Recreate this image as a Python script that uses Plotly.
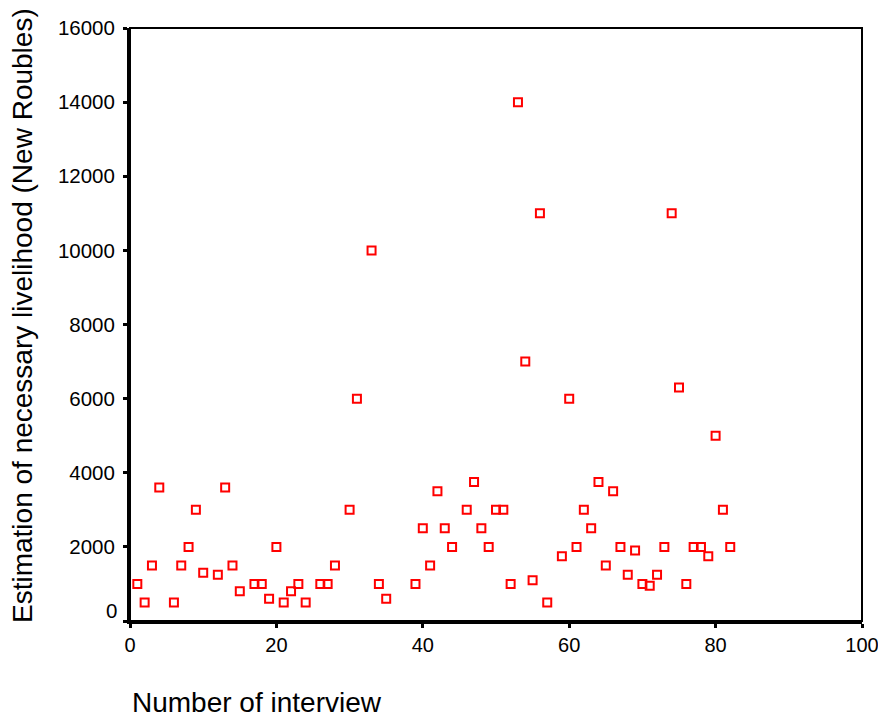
import plotly.graph_objects as go

interview = [1, 2, 3, 4, 6, 7, 8, 9, 10, 12, 13, 14, 15, 17, 18, 19, 20, 21, 22, 23, 24,
             26, 27, 28, 30, 31, 33, 34, 35, 39, 40, 41, 42, 43, 44, 46, 47, 48, 49, 50,
             51, 52, 53, 54, 55, 56, 57, 59, 60, 61, 62, 63, 64, 65, 66, 67, 68, 69, 70,
             71, 72, 73, 74, 75, 76, 77, 78, 79, 80, 81, 82]
livelihood = [1000, 500, 1500, 3600, 500, 1500, 2000, 3000, 1300, 1250, 3600, 1500, 800,
              1000, 1000, 600, 2000, 500, 800, 1000, 500,
              1000, 1000, 1500, 3000, 6000, 10000, 1000, 600, 1000, 2500, 1500, 3500, 2500,
              2000, 3000, 3750, 2500, 2000, 3000,
              3000, 1000, 14000, 7000, 1100, 11000, 500, 1750, 6000, 2000, 3000, 2500, 3750,
              1500, 3500, 2000, 1250, 1900, 1000,
              950, 1250, 2000, 11000, 6300, 1000, 2000, 2000, 1750, 5000, 3000, 2000]

y_ticks = [0, 2000, 4000, 6000, 8000, 10000, 12000, 14000, 16000]
y_ticktext = ["" if v == 0 else str(v) for v in y_ticks]
x_ticks = [0, 20, 40, 60, 80, 100]

FONT = "Liberation Sans, Arial, sans-serif"
TICK_SIZE = 20.5
XTICK_SIZE = 20

fig = go.Figure()
fig.add_trace(go.Scatter(
    x=interview, y=livelihood, mode="markers",
    marker=dict(symbol="square-open", size=8, color="#ff0000",
                line=dict(color="#ff0000", width=2)),
    showlegend=False, cliponaxis=False,
))

fig.update_layout(
    width=870, height=708,
    margin=dict(l=122, r=16, t=20, b=95),
    paper_bgcolor="white", plot_bgcolor="white",
    font=dict(family=FONT, color="black", size=TICK_SIZE),
    xaxis=dict(range=[0, 100], tickvals=x_ticks, showgrid=False, zeroline=False,
               showline=True, linecolor="black", linewidth=3,
               ticks="outside", ticklen=4, tickwidth=3, tickcolor="black",
               automargin=False, ticklabeloverflow="allow",
               tickfont=dict(size=XTICK_SIZE, family=FONT)),
    yaxis=dict(range=[0, 16000], tickvals=y_ticks, ticktext=y_ticktext,
               showgrid=False, zeroline=False,
               showline=True, linecolor="black", linewidth=3,
               ticks="outside", ticklen=4, tickwidth=3, tickcolor="black",
               ticklabelstandoff=4, automargin=False,
               tickfont=dict(size=TICK_SIZE, family=FONT)),
    shapes=[dict(type="rect", xref="paper", yref="paper", x0=0, x1=1, y0=0, y1=1,
                 line=dict(color="black", width=2), layer="above")],
    annotations=[
        dict(text="0", xref="paper", yref="y", x=0, y=0, xanchor="right",
             yanchor="middle", xshift=-11, yshift=11, showarrow=False,
             font=dict(size=TICK_SIZE, family=FONT)),
        dict(text="Number of interview", xref="paper", yref="paper", x=0, y=-0.138,
             xanchor="left", yanchor="middle", showarrow=False,
             font=dict(size=28, family=FONT)),
        dict(text="Estimation of necessary livelihood (New Roubles)", xref="paper",
             yref="paper", x=-0.147, y=0.515, xanchor="center", yanchor="middle",
             textangle=-90, showarrow=False, font=dict(size=28, family=FONT)),
    ],
)

fig.write_html("out.html")
